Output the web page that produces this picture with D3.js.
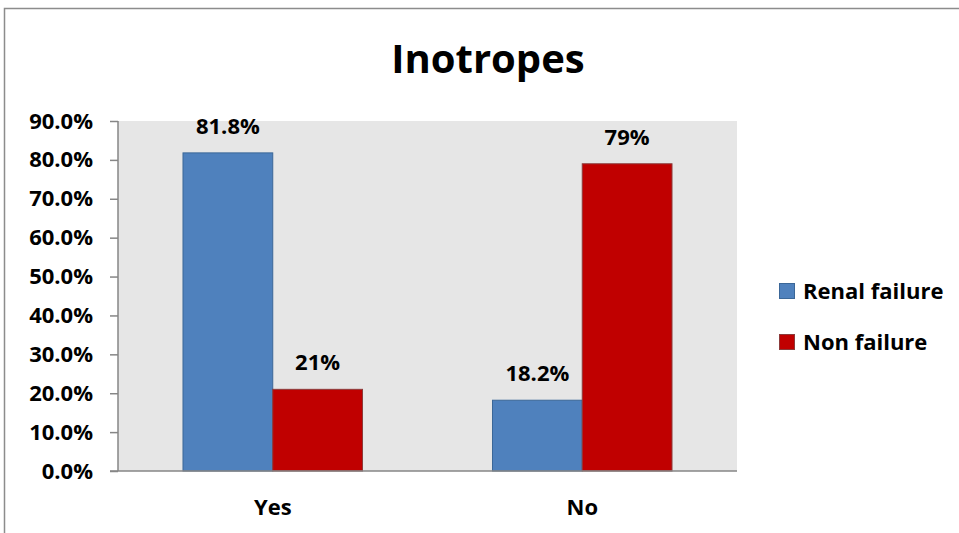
<!DOCTYPE html>
<html>
<head>
<meta charset="utf-8">
<script src="https://cdn.jsdelivr.net/npm/d3@7/dist/d3.min.js"></script>
<style>
  html, body { margin: 0; padding: 0; background: #ffffff; }
  svg { display: block; }
  text { font-family: "Open Sans", Lato, "Liberation Sans", sans-serif; font-weight: 700; fill: #000; }
</style>
</head>
<body>
<svg id="chart" width="959" height="533"></svg>
<script>
// Chart data
const chartTitle = "Inotropes";
const categories = ["Yes", "No"];
const seriesNames = ["Renal failure", "Non failure"];
const renalFailure = [81.8, 18.2];
const nonFailure = [21, 79];
const valueLabels = [["81.8%", "21%"], ["18.2%", "79%"]];
const yTicks = [0, 10, 20, 30, 40, 50, 60, 70, 80, 90];

const colors = ["#4f81bd", "#c00000"];
const strokes = ["#3b6798", "#8c3b3b"];
const FONT = "'Open Sans', Lato, 'Liberation Sans', sans-serif";

const svg = d3.select("#chart");
const W = 959, H = 533;

// Outer chart frame
svg.append("rect")
  .attr("x", 4.5).attr("y", 8.5)
  .attr("width", W + 10).attr("height", H + 10)
  .attr("fill", "#fff").attr("stroke", "#8c8c8c").attr("stroke-width", 1.5);

const plot = { left: 118, right: 737, top: 121, bottom: 471 };

const x0 = d3.scaleBand()
  .domain(categories)
  .range([plot.left, plot.right])
  .paddingInner(0.42)
  .paddingOuter(0.21);

const x1 = d3.scaleBand()
  .domain(seriesNames)
  .range([0, x0.bandwidth()]);

const y = d3.scaleLinear()
  .domain([0, 90])
  .range([plot.bottom, plot.top]);

// Plot area background
svg.append("rect")
  .attr("x", plot.left).attr("y", plot.top)
  .attr("width", plot.right - plot.left).attr("height", plot.bottom - plot.top)
  .attr("fill", "#e6e6e6");

// Bars
const rows = categories.map((c, i) => ({
  cat: c,
  vals: [renalFailure[i], nonFailure[i]],
  labels: valueLabels[i]
}));

const groups = svg.selectAll("g.cat")
  .data(rows)
  .join("g")
  .attr("class", "cat")
  .attr("transform", d => `translate(${x0(d.cat)},0)`);

groups.selectAll("rect")
  .data(d => d.vals.map((v, j) => ({ v, j, s: seriesNames[j] })))
  .join("rect")
  .attr("x", d => x1(d.s))
  .attr("y", d => y(d.v))
  .attr("width", x1.bandwidth())
  .attr("height", d => y(0) - y(d.v))
  .attr("fill", d => colors[d.j])
  .attr("stroke", d => strokes[d.j])
  .attr("stroke-width", 1);

groups.selectAll("text.val")
  .data(d => d.vals.map((v, j) => ({ v, j, s: seriesNames[j], label: d.labels[j] })))
  .join("text")
  .attr("class", "val")
  .attr("x", d => x1(d.s) + x1.bandwidth() / 2)
  .attr("y", d => y(d.v) - 19)
  .attr("text-anchor", "middle")
  .attr("font-size", 22)
  .text(d => d.label);

// Y axis
const yAxis = d3.axisLeft(y)
  .tickValues(yTicks)
  .tickSize(8)
  .tickPadding(17)
  .tickFormat(d => d.toFixed(1) + "%");

const gy = svg.append("g")
  .attr("transform", `translate(${plot.left},0)`)
  .call(yAxis);
gy.select(".domain").attr("stroke", "#868686").attr("stroke-width", 1.5).attr("d", `M0,${plot.top}V${plot.bottom}`);
gy.selectAll(".tick line").attr("stroke", "#868686").attr("stroke-width", 1.5);
gy.selectAll(".tick text")
  .attr("font-size", 22)
  .attr("font-family", FONT)
  .attr("font-weight", 700)
  .attr("fill", "#000");

// X axis baseline
const xAxis = d3.axisBottom(x0).tickSize(0).tickPadding(28);
const gx = svg.append("g")
  .attr("transform", `translate(0,${plot.bottom})`)
  .call(xAxis);
gx.select(".domain").attr("stroke", "#868686").attr("stroke-width", 1.5)
  .attr("d", `M${plot.left - 8},0H${plot.right}`);
gx.selectAll(".tick text")
  .attr("font-size", 22)
  .attr("font-family", FONT)
  .attr("font-weight", 700)
  .attr("fill", "#000");

// Title
svg.append("text")
  .attr("x", 488).attr("y", 73)
  .attr("text-anchor", "middle")
  .attr("font-size", 40)
  .text(chartTitle);

// Legend
const legend = svg.append("g").attr("transform", "translate(779,283)");
const items = legend.selectAll("g")
  .data(seriesNames)
  .join("g")
  .attr("transform", (d, i) => `translate(0,${i * 51})`);
items.append("rect")
  .attr("width", 15).attr("height", 15)
  .attr("x", 0.5).attr("y", 0.5)
  .attr("fill", (d, i) => colors[i])
  .attr("stroke", (d, i) => strokes[i]);
items.append("text")
  .attr("x", 24).attr("y", 16)
  .attr("font-size", 22)
  .text(d => d);
</script>
</body>
</html>
